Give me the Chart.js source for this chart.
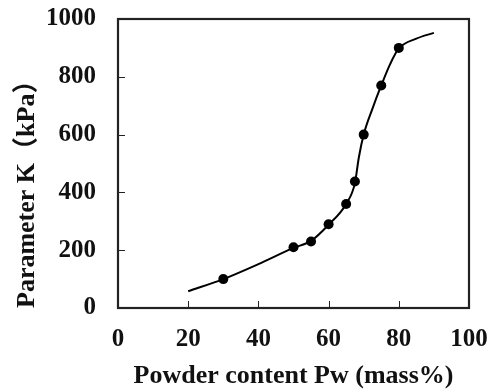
<!DOCTYPE html>
<html><head><meta charset="utf-8">
<script src="https://cdn.jsdelivr.net/npm/chart.js@4"></script>
<style>html,body{margin:0;padding:0;background:#fff}#w{width:498px;height:392px}</style>
</head><body><div id="w"><canvas id="c" width="498" height="392"></canvas></div>
<script>
const pointX = [30, 50, 55, 60, 65, 67.5, 70, 75, 80];
const pointK = [100, 210, 230, 290, 360, 438, 600, 770, 900];
const curveX = [20, 30, 40, 50, 55, 60, 65, 67.5, 68.6, 70, 72.5, 75, 77.5, 80, 85, 90];
const curveK = [58, 100, 152, 208, 232, 288, 360, 432, 520, 600, 690, 770, 843, 898, 932, 952];
const xTicks = [0, 20, 40, 60, 80, 100];
const yTicks = [0, 200, 400, 600, 800, 1000];

const FONT = {family: '"Liberation Serif", "Times New Roman", serif', size: 25, weight: 'bold'};
const TFONT = {family: '"Liberation Serif", "Noto Sans CJK SC", serif', size: 26, weight: 'bold'};

const boxPlugin = {
  id: 'box',
  afterDraw(chart) {
    const {ctx, chartArea: a, scales: {x, y}} = chart;
    ctx.save();
    ctx.strokeStyle = '#222';
    ctx.lineWidth = 1;
    ctx.beginPath();
    xTicks.forEach(v => { const px = Math.round(x.getPixelForValue(v)) + 0.5; ctx.moveTo(px, a.bottom); ctx.lineTo(px, a.bottom - 7); });
    yTicks.forEach(v => { const py = Math.round(y.getPixelForValue(v)) + 0.5; ctx.moveTo(a.left, py); ctx.lineTo(a.left + 7, py); });
    ctx.stroke();
    ctx.lineWidth = 2.2;
    ctx.strokeRect(a.left, a.top, a.right - a.left, a.bottom - a.top);
    ctx.restore();
  }
};

new Chart(document.getElementById('c'), {
  type: 'scatter',
  data: {
    datasets: [
      {data: curveX.map((v, i) => ({x: v, y: curveK[i]})), showLine: true, borderColor: '#000', borderWidth: 2, pointRadius: 0, cubicInterpolationMode: 'monotone', fill: false},
      {data: pointX.map((v, i) => ({x: v, y: pointK[i]})), showLine: false, pointRadius: 5, pointBackgroundColor: '#000', pointBorderColor: '#000', pointBorderWidth: 0}
    ]
  },
  options: {
    responsive: false, animation: false, devicePixelRatio: 1,
    layout: {padding: {top: 19, right: 29, left: 0, bottom: 0}},
    plugins: {legend: {display: false}, tooltip: {enabled: false}},
    scales: {
      x: {
        type: 'linear', min: 0, max: 100,
        afterBuildTicks: s => { s.ticks = xTicks.map(v => ({value: v})); },
        afterFit: s => { s.height = 84; s.paddingLeft = 0; s.paddingRight = 0; },
        grid: {display: false, drawTicks: false},
        border: {display: false},
        ticks: {color: '#111', font: FONT, padding: 17, maxRotation: 0, callback: v => String(v)},
        title: {display: true, text: 'Powder content Pw (mass%)', color: '#111', font: TFONT, padding: {top: 0, bottom: 0}}
      },
      y: {
        type: 'linear', min: 0, max: 1000,
        afterBuildTicks: s => { s.ticks = yTicks.map(v => ({value: v})); },
        afterFit: s => { s.width = 118; s.paddingTop = 0; s.paddingBottom = 0; },
        grid: {display: false, drawTicks: false},
        border: {display: false},
        ticks: {color: '#111', font: FONT, padding: 22, callback: v => String(v)},
        title: {display: true, text: 'Parameter K（kPa）', color: '#111', font: TFONT, align: 'start', padding: {top: 12, bottom: 0}}
      }
    }
  },
  plugins: [boxPlugin]
});
</script>
</body></html>
